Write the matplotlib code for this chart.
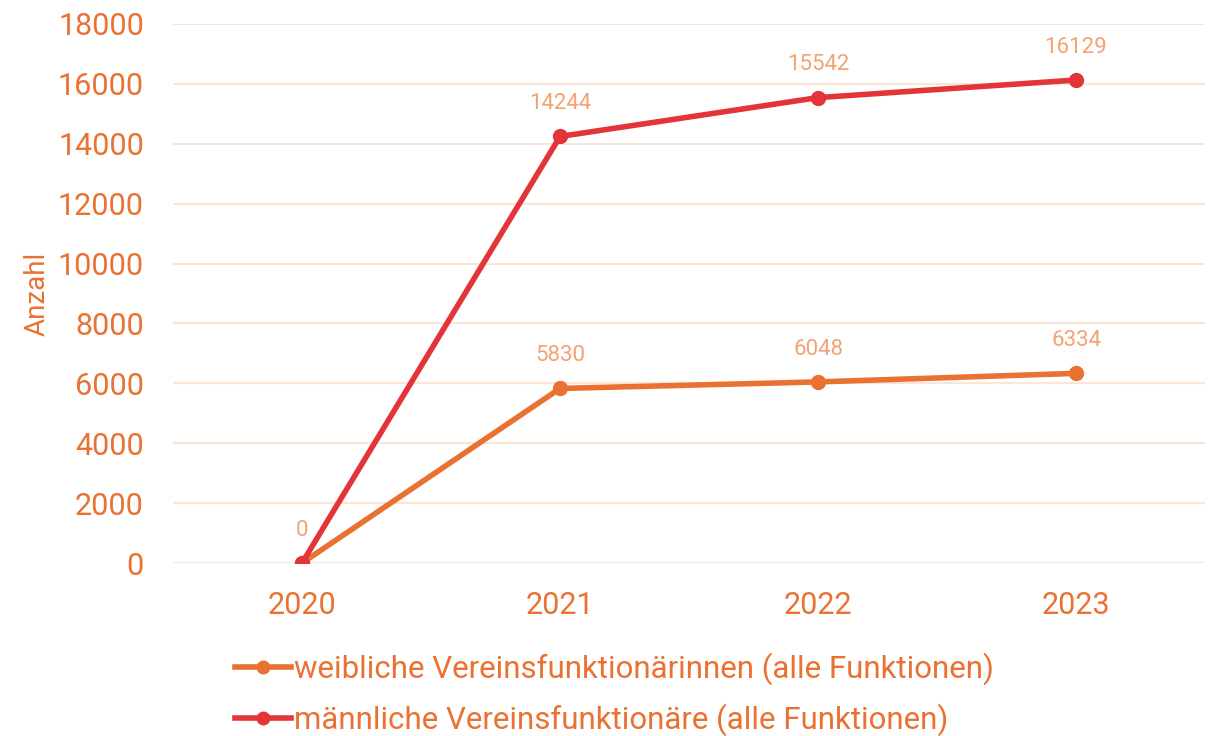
import matplotlib
matplotlib.use("Agg")
import matplotlib.pyplot as plt

years = ["2020", "2021", "2022", "2023"]
weiblich = [0, 5830, 6048, 6334]
maennlich = [0, 14244, 15542, 16129]
yticks = [0, 2000, 4000, 6000, 8000, 10000, 12000, 14000, 16000, 18000]
label_w = "weibliche Vereinsfunktionärinnen (alle Funktionen)"
label_m = "männliche Vereinsfunktionäre (alle Funktionen)"

plt.rcParams['font.family'] = ['Roboto', 'DejaVu Sans']

C_OR = "#E97132"
C_RED = "#E3343A"
C_LBL = "#F2A273"
C_GRID = "#FBE5D6"

fig = plt.figure(figsize=(12.09, 7.36), dpi=100)
ax = fig.add_axes([0.1431, 0.235, 0.8536, 0.7324])
x = list(range(len(years)))
ax.plot(x, weiblich, color=C_OR, lw=4, marker='o', ms=10, label=label_w, zorder=3)
ax.plot(x, maennlich, color=C_RED, lw=4, marker='o', ms=10, label=label_m, zorder=4)

for i, v in enumerate(maennlich):
    ax.annotate(str(v), (i, v), xytext=(0, 23.5), textcoords='offset points',
                ha='center', va='center', color=C_LBL, fontsize=16)
for i, v in enumerate(weiblich):
    if i == 0:
        continue
    ax.annotate(str(v), (i, v), xytext=(0, 23.5), textcoords='offset points',
                ha='center', va='center', color=C_LBL, fontsize=16)

ax.set_xlim(-0.5, 3.5)
ax.set_ylim(0, 18000)
ax.set_yticks(yticks)
ax.set_xticks(x)
ax.set_xticklabels(years)
ax.tick_params(axis='both', length=0, labelsize=22, colors=C_OR)
ax.tick_params(axis='y', pad=21)
ax.tick_params(axis='x', pad=20)
ax.grid(axis='y', color=C_GRID, lw=1.5)
ax.set_axisbelow(True)
for s in ax.spines.values():
    s.set_visible(False)
ax.set_ylabel("Anzahl", color=C_OR, fontsize=20)
ax.yaxis.set_label_coords(-0.119, 0.5)

leg = fig.legend(loc='upper left', bbox_to_anchor=(0.184, 0.13), frameon=False,
                 fontsize=22.5, labelcolor=C_OR, handlelength=1.8, handletextpad=0.08,
                 labelspacing=0.58, borderaxespad=0)
for h in leg.legend_handles:
    h.set_markersize(9)

fig.savefig("out.png", dpi=100)
